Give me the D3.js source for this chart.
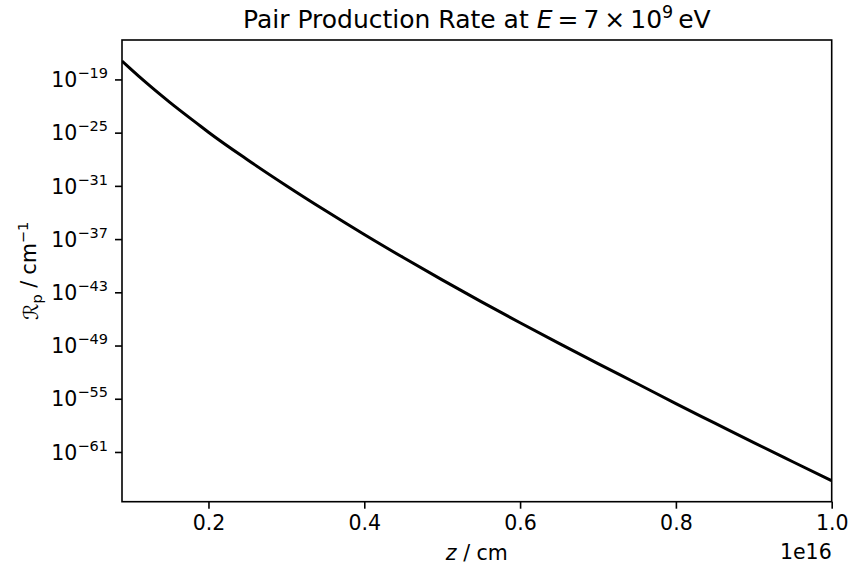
<!DOCTYPE html>
<html><head><meta charset="utf-8">
<script src="https://cdn.jsdelivr.net/npm/d3@7"></script>
<style>
body{margin:0;background:#fff;}
svg text{font-family:"DejaVu Sans",sans-serif;fill:#000;}
</style></head>
<body><svg id="c" width="850" height="567"></svg>
<script>
// z in units of 1e16 cm
const zValues = [0.089, 0.10, 0.12, 0.15, 0.19, 0.20, 0.25, 0.30, 0.35, 0.40, 0.45, 0.50, 0.55, 0.60, 0.65, 0.70, 0.75, 0.80, 0.85, 0.90, 0.95, 1.00];
const rateValues = [1.2e-17, 1.55e-18, 4.27e-20, 2.75e-22, 5.25e-25, 1.12e-25, 8.9e-29, 1.05e-31, 1.66e-34, 3.31e-37, 8.3e-40, 2.51e-42, 8.9e-45, 3.72e-47, 1.74e-49, 9.1e-52, 5.25e-54, 2.82e-56, 1.78e-58, 1.12e-60, 7.9e-63, 5.75e-65];
const xTicks = [0.2, 0.4, 0.6, 0.8, 1.0];
const yTickExps = [-19, -25, -31, -37, -43, -49, -55, -61];

const W = 850, H = 567;
const m = {l:122, r:18.3, t:40, b:65.3};
const svg = d3.select("#c");
const pw = W - m.l - m.r, ph = H - m.t - m.b;
const FS = 20.5, SUP = 14.5;

const x = d3.scaleLinear().domain([d3.min(zValues), 1.0]).range([m.l, m.l + pw]);
const lmin = Math.log10(d3.min(rateValues)), lmax = Math.log10(d3.max(rateValues));
const pad = 0.05 * (lmax - lmin);
const y = d3.scaleLog().domain([Math.pow(10, lmin - pad), Math.pow(10, lmax + pad)]).range([m.t + ph, m.t]);

const data = zValues.map((z, i) => ({z, r: rateValues[i]}));

const g = svg.append("g");
g.append("defs").append("clipPath").attr("id","clip").append("rect")
  .attr("x", m.l).attr("y", m.t).attr("width", pw).attr("height", ph);

g.append("path").datum(data)
  .attr("clip-path","url(#clip)")
  .attr("fill","none").attr("stroke","#000").attr("stroke-width",3)
  .attr("stroke-linejoin","round")
  .attr("d", d3.line().x(d => x(d.z)).y(d => y(d.r)).curve(d3.curveMonotoneX));

// frame
g.append("rect").attr("x", m.l).attr("y", m.t).attr("width", pw).attr("height", ph)
  .attr("fill","none").attr("stroke","#000").attr("stroke-width",1.6);

// x axis
const xAxis = d3.axisBottom(x).tickValues(xTicks).tickSize(7).tickPadding(7).tickFormat(d3.format(".1f"));
const xg = g.append("g").attr("transform", `translate(0,${m.t+ph})`).call(xAxis);
xg.select(".domain").remove();
xg.selectAll(".tick line").attr("stroke","#000").attr("stroke-width",1.6);
xg.selectAll(".tick text").attr("font-size", FS).attr("font-family","DejaVu Sans").attr("fill","#000");

// y axis
const yAxis = d3.axisLeft(y).tickValues(yTickExps.map(e => Math.pow(10, e))).tickSize(7).tickPadding(7).tickFormat("");
const yg = g.append("g").attr("transform", `translate(${m.l},0)`).call(yAxis);
yg.select(".domain").remove();
yg.selectAll(".tick line").attr("stroke","#000").attr("stroke-width",1.6);
yg.selectAll(".tick").each(function(d, i) {
  const t = d3.select(this).select("text").attr("font-size", FS).attr("font-family","DejaVu Sans").attr("fill","#000").attr("dy","0.35em");
  t.text(null);
  t.append("tspan").text("10");
  t.append("tspan").attr("font-size", SUP).attr("dy","-0.62em").text("\u2212" + Math.abs(yTickExps[i]));
});

// title
const title = g.append("text").attr("x", m.l + pw/2).attr("y", 28).attr("text-anchor","middle").attr("font-size", 25);
title.append("tspan").text("Pair Production Rate at ");
title.append("tspan").attr("font-style","italic").text("E");
title.append("tspan").text("\u2009=\u20097\u2009\u00d7\u200910");
title.append("tspan").attr("font-size", 17.5).attr("dy","-0.6em").text("9");
title.append("tspan").attr("dy","0.42em").text("\u2009eV");

// x label
const xl = g.append("text").attr("x", m.l + pw/2).attr("y", 560).attr("text-anchor","middle").attr("font-size", FS);
xl.append("tspan").attr("font-style","italic").text("z");
xl.append("tspan").text(" / cm");

// offset text
g.append("text").attr("x", m.l + pw).attr("y", 559).attr("text-anchor","end").attr("font-size", FS).text("1e16");

// y label
const yl = g.append("text").attr("transform", `translate(38,${m.t + ph/2}) rotate(-90)`).attr("text-anchor","middle").attr("font-size", FS);
yl.append("tspan").attr("font-style","italic").text("\u211B");
yl.append("tspan").attr("font-size", SUP).attr("dy","0.3em").text("p");
yl.append("tspan").attr("dy","-0.3em").text(" / cm");
yl.append("tspan").attr("font-size", SUP).attr("dy","-0.6em").text("\u22121");
</script></body></html>
